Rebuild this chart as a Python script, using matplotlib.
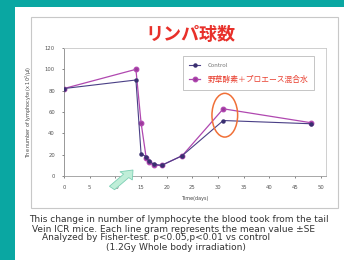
import numpy as np
import matplotlib
matplotlib.use('Agg')
import matplotlib.pyplot as plt
from matplotlib import rc
from matplotlib.patches import Rectangle, Ellipse, FancyArrow

rc('font', **{'family': ['DejaVu Sans', 'Noto Sans CJK JP']})

# data (days after irradiation)
days = [0, 14, 15, 16, 16.5, 17.5, 19, 23, 31, 48]
control = [82, 90, 21, 18, 14, 11, 10, 19, 52, 49]
treated = [82, 100, 50, 17, 13, 10, 10, 19, 63, 50]
xticks = [0, 5, 10, 15, 20, 25, 30, 35, 40, 45, 50]
yticks = [0, 20, 40, 60, 80, 100, 120]

title = "リンパ球数"
label_control = "Control"
label_treated = "野草酵素＋プロエース混合水"
caption = [
    "This change in number of lymphocyte the blood took from the tail",
    "Vein ICR mice. Each line gram represents the mean value \u00b1SE",
    "Analyzed by Fisher-test. p<0.05,p<0.01 vs control",
    "(1.2Gy Whole body irradiation)",
]

W, H = 344, 260
fig = plt.figure(figsize=(W / 100, H / 100), dpi=100)
fig.patch.set_facecolor('#0aa7a2')

def fx(px):
    return px / W

def fy(py):
    return 1 - py / H

# white slide panel and chart frame
fig.patches.append(Rectangle((fx(15), 0), 1, fy(7), transform=fig.transFigure,
                             facecolor='white', edgecolor='none', zorder=-3))
fig.patches.append(Rectangle((fx(31), fy(208)), fx(338) - fx(31), fy(17) - fy(208),
                             transform=fig.transFigure, facecolor='white',
                             edgecolor='#c8c8c8', lw=0.8, zorder=-2))

ax = fig.add_axes([fx(64), fy(176), fx(326) - fx(64), fy(48) - fy(176)])
ax.set_facecolor('white')

ax.plot(days, control, color='#4a3f86', lw=0.8, marker='o', markersize=2.2,
        markerfacecolor='#3a2f70', markeredgecolor='#3a2f70', label=label_control, zorder=3)
ax.plot(days, treated, color='#b048b0', lw=0.9, marker='o', markersize=3.2,
        markerfacecolor='#9a3a9a', markeredgecolor='#b048b0', label=label_treated, zorder=2)

ax.set_xlim(0, 51)
ax.set_ylim(0, 120)
ax.set_xticks(xticks)
ax.set_yticks(yticks)
ax.tick_params(labelsize=3.8, colors='#555555', length=1.5, width=0.5, pad=5)
for s in ax.spines.values():
    s.set_color('#c8c8c8')
    s.set_linewidth(0.6)
ax.spines['left'].set_color('#888888')
ax.spines['bottom'].set_color('#999999')

ax.set_xlabel("Time(days)", fontsize=3.5, color='#444444', labelpad=4)
ax.set_ylabel("The number of lymphocyte (x 10$^2$/\u03bcl)", fontsize=3.5,
              color='#444444', labelpad=8)

leg = ax.legend(loc='upper right', bbox_to_anchor=(0.97, 0.97),
                prop={'family': ['Noto Sans CJK JP', 'DejaVu Sans'], 'size': 5.6},
                frameon=True, fancybox=False, edgecolor='#aaaaaa',
                borderpad=0.8, labelspacing=1.0, handlelength=1.4,
                handletextpad=0.9)
leg.get_frame().set_linewidth(0.6)
texts = leg.get_texts()
texts[0].set_color('#777777')
texts[0].set_fontsize(4.2)
texts[1].set_color('#e83a2a')

# highlight around day 31
ax.add_patch(Ellipse((31.3, 57), 5.0, 41, fill=False, edgecolor='#f07038',
                     lw=1.1, zorder=5, clip_on=False))

fig.text(fx(190), fy(35), title, ha='center', va='center', fontsize=13,
         fontweight='bold', color='#e8302a',
         family=['Noto Sans CJK JP', 'DejaVu Sans'])

# green arrow pointing to day 14
fig.patches.append(FancyArrow(fx(112), fy(188), fx(133) - fx(112), fy(170) - fy(188),
                              width=0.02, head_width=0.048, head_length=0.03,
                              length_includes_head=True, transform=fig.transFigure,
                              facecolor='#bfeed8', edgecolor='#7ccfb4', lw=0.6, zorder=6))

lefts = [29, 32, 42, 106]
ys = [220, 229, 238, 247]
for t, lx, ly in zip(caption, lefts, ys):
    fig.text(fx(lx), fy(ly), t, ha='left', va='center', fontsize=6.5, color='#333333')

plt.savefig('out.png', dpi=100, facecolor=fig.get_facecolor())
